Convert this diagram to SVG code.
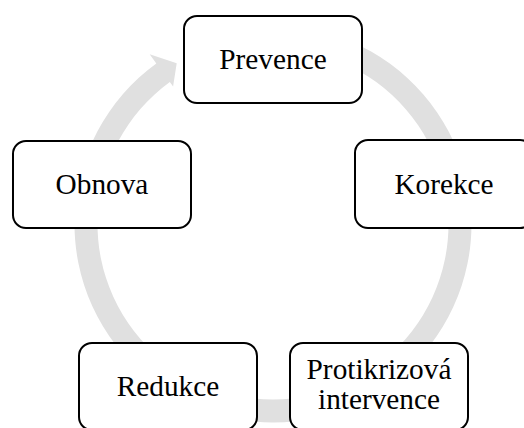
<svg xmlns="http://www.w3.org/2000/svg" width="524" height="428" viewBox="0 0 524 428">
  <style>
    .box { fill: #ffffff; stroke: #000000; stroke-width: 2; }
    .lbl { font-family: 'Liberation Serif', 'DejaVu Serif', serif; font-size: 29.3px; fill: #000000; text-anchor: middle; }
    .ring { fill: #e0e0e0; stroke: none; }
  </style>
  <rect width="524" height="428" fill="#ffffff"/>
  <g id="connectors">
    <path class="ring" d="M 307.47 28.52 A 198.5 198.5 0 1 1 156.32 63.41 L 149.68 54.27 L 176.7 63.2 L 173.1 86.5 L 169.84 82.02 A 175.5 175.5 0 1 0 303.48 51.17 Z"/>
  </g>
  <g id="node-prevence">
    <rect class="box" x="184" y="16" width="178" height="87" rx="13" ry="13"/>
    <text class="lbl" x="273" y="69">Prevence</text>
  </g>
  <g id="node-korekce">
    <rect class="box" x="355" y="140" width="178" height="88" rx="13" ry="13"/>
    <text class="lbl" x="444" y="194">Korekce</text>
  </g>
  <g id="node-protikrizova">
    <rect class="box" x="290" y="343" width="178" height="87" rx="13" ry="13"/>
    <text class="lbl" x="379" y="379">Protikrizová</text>
    <text class="lbl" x="379" y="409">intervence</text>
  </g>
  <g id="node-redukce">
    <rect class="box" x="79" y="343" width="178" height="87" rx="13" ry="13"/>
    <text class="lbl" x="168" y="396">Redukce</text>
  </g>
  <g id="node-obnova">
    <rect class="box" x="13" y="141" width="178" height="87" rx="13" ry="13"/>
    <text class="lbl" x="102" y="194">Obnova</text>
  </g>
</svg>
